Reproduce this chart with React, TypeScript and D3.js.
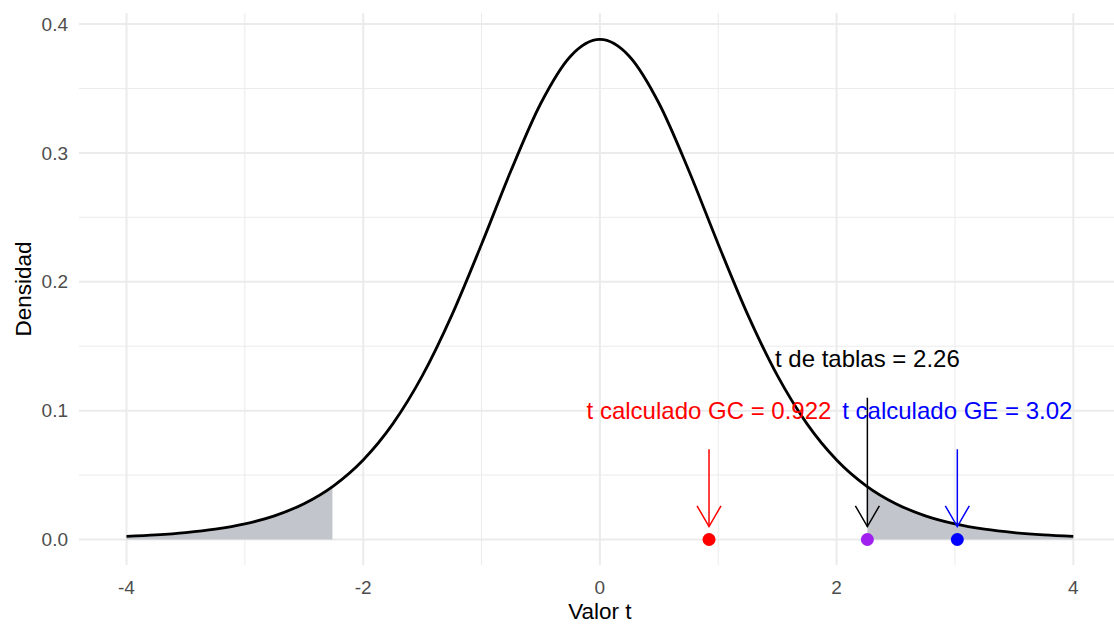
import React from "react";
import * as d3 from "d3";

// Student t density (df = 9)
const tGrid = [-4, -3.75, -3.5, -3.25, -3, -2.75, -2.5, -2.25, -2, -1.75, -1.5, -1.25, -1, -0.75, -0.5, -0.25, 0,
  0.25, 0.5, 0.75, 1, 1.25, 1.5, 1.75, 2, 2.25, 2.5, 2.75, 3, 3.25, 3.5, 3.75, 4];
const density = [0.00235, 0.00351, 0.00529, 0.008, 0.01213, 0.01838, 0.02777, 0.04166, 0.0617, 0.0897, 0.1271, 0.1743, 0.2291, 0.2865, 0.3383, 0.3748, 0.388,
  0.3748, 0.3383, 0.2865, 0.2291, 0.1743, 0.1271, 0.0897, 0.0617, 0.04166, 0.02777, 0.01838, 0.01213, 0.008, 0.00529, 0.00351, 0.00235];

const tCrit = 2.26;
const densCrit = 0.041;

const markerT = [0.922, 2.26, 3.02];
const markerLabels = ["t calculado GC = 0.922", "t de tablas = 2.26", "t calculado GE = 3.02"];
const markerTextColors = ["#FF0000", "#000000", "#0000FF"];
const markerPointColors = ["#FF0000", "#A020F0", "#0000FF"];
const labelY = [0.1, 0.14, 0.1];
const arrowStart = [0.07, 0.11, 0.07];
const arrowEnd = [0.01, 0.01, 0.01];

const xTicks = [-4, -2, 0, 2, 4];
const xMinor = [-3, -1, 1, 3];
const yTicks = [0, 0.1, 0.2, 0.3, 0.4];
const yMinor = [0.05, 0.15, 0.25, 0.35];

const W = 1114, H = 626;
const panel = { left: 79, right: 1114, top: 13, bottom: 565 };

export default function App() {
  const x = d3.scaleLinear().domain([-4, 4]).range([126.5, 1073.3]);
  const y = d3.scaleLinear().domain([0, 0.4]).range([539.5, 24]);
  const pts: [number, number][] = tGrid.map((t, i) => [t, density[i]]);

  const line = d3.line<[number, number]>().x(d => x(d[0])).y(d => y(d[1])).curve(d3.curveMonotoneX);
  const area = d3.area<[number, number]>().x(d => x(d[0])).y0(y(0)).y1(d => y(d[1])).curve(d3.curveMonotoneX);

  const leftTail: [number, number][] = [...pts.filter(p => p[0] < -tCrit), [-tCrit, densCrit]];
  const rightTail: [number, number][] = [[tCrit, densCrit], ...pts.filter(p => p[0] > tCrit)];

  const grid = "#EBEBEB";
  const font = "'Liberation Sans', Arial, sans-serif";
  const headLen = 24;
  const ang = Math.PI / 6;

  return (
    <svg width={W} height={H} style={{ position: "fixed", left: 0, top: 0, background: "#fff" }} fontFamily={font}>
      {/* minor grid */}
      {xMinor.map(v => <line key={"xm" + v} x1={x(v)} x2={x(v)} y1={panel.top} y2={panel.bottom} stroke={grid} strokeWidth={1} />)}
      {yMinor.map(v => <line key={"ym" + v} x1={panel.left} x2={panel.right} y1={y(v)} y2={y(v)} stroke={grid} strokeWidth={1} />)}
      {/* major grid */}
      {xTicks.map(v => <line key={"xM" + v} x1={x(v)} x2={x(v)} y1={panel.top} y2={panel.bottom} stroke={grid} strokeWidth={2} />)}
      {yTicks.map(v => <line key={"yM" + v} x1={panel.left} x2={panel.right} y1={y(v)} y2={y(v)} stroke={grid} strokeWidth={2} />)}

      {/* shaded tails */}
      <path d={area(leftTail) || ""} fill="#C2C6CC" />
      <path d={area(rightTail) || ""} fill="#C2C6CC" />

      {/* density curve */}
      <path d={line(pts) || ""} fill="none" stroke="#000" strokeWidth={2.8} />

      {/* points */}
      {markerT.map((t, i) => <circle key={"p" + i} cx={x(t)} cy={y(0)} r={6.5} fill={markerPointColors[i]} />)}

      {/* arrows */}
      {markerT.map((t, i) => {
        const xs = x(t), y0 = y(arrowStart[i]), y1 = y(arrowEnd[i]);
        const c = markerTextColors[i];
        return (
          <g key={"a" + i} stroke={c} strokeWidth={1.5} fill="none">
            <line x1={xs} x2={xs} y1={y0} y2={y1} />
            <polyline points={`${xs - headLen * Math.sin(ang)},${y1 - headLen * Math.cos(ang)} ${xs},${y1} ${xs + headLen * Math.sin(ang)},${y1 - headLen * Math.cos(ang)}`} />
          </g>
        );
      })}

      {/* labels */}
      {markerT.map((t, i) => (
        <text key={"l" + i} x={x(t)} y={y(labelY[i])} dy="0.35em" textAnchor="middle" fontSize={24} fill={markerTextColors[i]}>
          {markerLabels[i]}
        </text>
      ))}

      {/* axis tick labels */}
      {xTicks.map(v => (
        <text key={"xt" + v} x={x(v)} y={587} dy="0.35em" textAnchor="middle" fontSize={19} fill="#4D4D4D">{v}</text>
      ))}
      {yTicks.map(v => (
        <text key={"yt" + v} x={68} y={y(v)} dy="0.35em" textAnchor="end" fontSize={19} fill="#4D4D4D">{v.toFixed(1)}</text>
      ))}

      {/* axis titles */}
      <text x={x(0)} y={611} dy="0.35em" textAnchor="middle" fontSize={22.5} fill="#000">Valor t</text>
      <text transform={`translate(23, ${(panel.top + panel.bottom) / 2}) rotate(-90)`} dy="0.35em" textAnchor="middle" fontSize={22.5} fill="#000">Densidad</text>
    </svg>
  );
}
